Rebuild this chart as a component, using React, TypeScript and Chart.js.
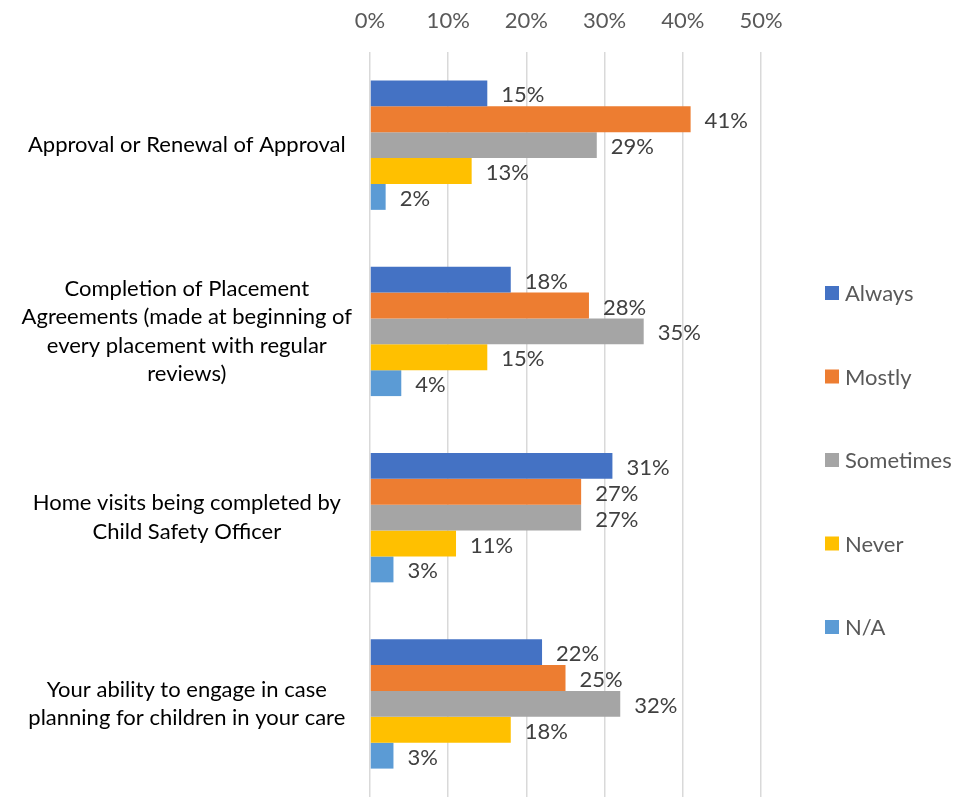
import React, { useEffect, useRef } from 'react';
import { Chart, registerables } from 'chart.js';

Chart.register(...registerables);

// ---- data ----
const categories: string[][] = [
  ['Approval or Renewal of Approval'],
  ['Completion of Placement', 'Agreements (made at beginning of', 'every placement with regular', 'reviews)'],
  ['Home visits being completed by', 'Child Safety Officer'],
  ['Your ability to engage in case', 'planning for children in your care'],
];
const seriesNames = ['Always', 'Mostly', 'Sometimes', 'Never', 'N/A'];
const always = [15, 18, 31, 22];
const mostly = [41, 28, 27, 25];
const sometimes = [29, 35, 27, 32];
const never = [13, 15, 11, 18];
const na = [2, 4, 3, 3];
const seriesValues = [always, mostly, sometimes, never, na];
const seriesColors = ['#4472C4', '#ED7D31', '#A5A5A5', '#FFC000', '#5B9BD5'];
const xMin = 0;
const xMax = 50;
const xStep = 10;

// ---- style ----
const FONT = 'Lato, "Liberation Sans", sans-serif';
const FS = 22;
const W = 953;
const H = 797;

const valueLabelPlugin = {
  id: 'valueLabels',
  afterDatasetsDraw(chart: any) {
    const ctx = chart.ctx;
    ctx.save();
    ctx.font = `${FS}px ${FONT}`;
    ctx.fillStyle = '#404040';
    ctx.textAlign = 'left';
    ctx.textBaseline = 'middle';
    chart.data.datasets.forEach((ds: any, i: number) => {
      const meta = chart.getDatasetMeta(i);
      meta.data.forEach((el: any, j: number) => {
        ctx.fillText(`${ds.data[j]}%`, el.x + 14, el.y + 2);
      });
    });
    ctx.restore();
  },
};

const sideLegendPlugin = {
  id: 'sideLegend',
  afterDraw(chart: any) {
    const ctx = chart.ctx;
    const area = chart.chartArea;
    const x = area.right + 64;
    const spacing = 83.5;
    const centerY = 460;
    const n = chart.data.datasets.length;
    ctx.save();
    ctx.font = `${FS}px ${FONT}`;
    ctx.textAlign = 'left';
    ctx.textBaseline = 'middle';
    chart.data.datasets.forEach((ds: any, i: number) => {
      const y = centerY + (i - (n - 1) / 2) * spacing;
      ctx.fillStyle = ds.backgroundColor;
      ctx.fillRect(x, y - 7, 14, 14);
      ctx.fillStyle = '#595959';
      ctx.fillText(ds.label, x + 20, y + 1);
    });
    ctx.restore();
  },
};

export default function App() {
  const canvasRef = useRef<HTMLCanvasElement | null>(null);

  useEffect(() => {
    document.body.style.margin = '0';
    const canvas = canvasRef.current;
    if (!canvas) return;
    const chart = new Chart(canvas, {
      type: 'bar',
      data: {
        labels: categories,
        datasets: seriesNames.map((name, i) => ({
          label: name,
          data: seriesValues[i],
          backgroundColor: seriesColors[i],
          borderWidth: 0,
          categoryPercentage: 0.695,
          barPercentage: 1,
        })),
      },
      options: {
        indexAxis: 'y',
        responsive: false,
        animation: false,
        layout: { padding: { right: W - 761, top: 0, bottom: 0, left: 0 } },
        plugins: {
          legend: { display: false },
          tooltip: { enabled: false },
        },
        scales: {
          x: {
            position: 'top',
            min: xMin,
            max: xMax,
            ticks: {
              stepSize: xStep,
              callback: (v: any) => `${v}%`,
              font: { family: FONT, size: FS },
              color: '#595959',
              padding: 18,
            },
            grid: { color: '#d9d9d9', lineWidth: 1.5, drawTicks: false },
            border: { display: false },
            afterFit: (scale: any) => {
              scale.height = 52;
            },
          },
          y: {
            ticks: {
              font: { family: FONT, size: FS, lineHeight: '28.5px' },
              color: '#000000',
              crossAlign: 'center',
              padding: 10,
            },
            grid: { display: false },
            border: { display: false },
            afterFit: (scale: any) => {
              scale.width = 370;
              scale.paddingTop = 0;
              scale.paddingBottom = 0;
            },
          },
        },
      },
      plugins: [valueLabelPlugin, sideLegendPlugin],
    });
    return () => chart.destroy();
  }, []);

  return (
    <div style={{ width: W, height: H, background: '#ffffff' }}>
      <canvas ref={canvasRef} width={W} height={H} />
    </div>
  );
}
